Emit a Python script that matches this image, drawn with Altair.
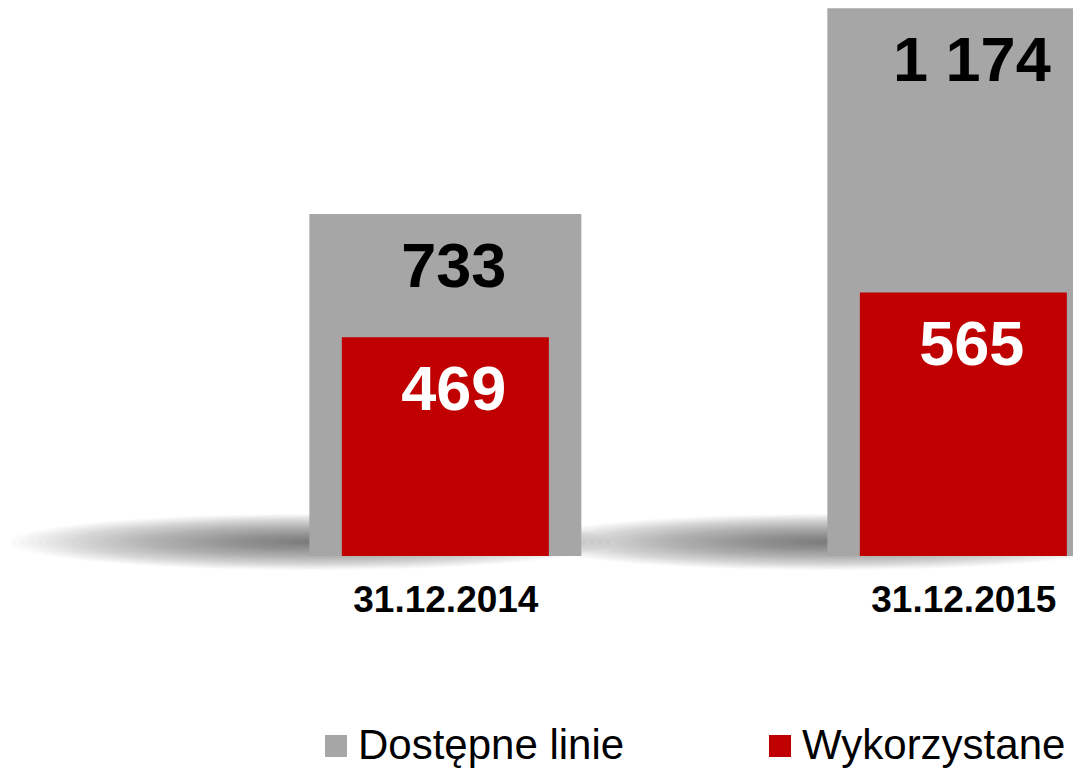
import math
import altair as alt
import pandas as pd

# ---- data ----
dates = ["31.12.2014", "31.12.2015"]
series_names = ["Dostępne linie", "Wykorzystane"]
available = [733, 1174]
used = [469, 565]
colors = ["#a6a6a6", "#c00000"]


def fmt(v):
    return f"{v:,}".replace(",", " ")


rows = []
for i, (d, a, u) in enumerate(zip(dates, available, used)):
    rows.append({"idx": i, "date": d, "series": series_names[0], "value": a, "label": fmt(a)})
    rows.append({"idx": i, "date": d, "series": series_names[1], "value": u, "label": fmt(u)})
df = pd.DataFrame(rows)

# decorative floor shadow: stacked translucent ellipses under each bar (style only)
N_LAYERS = 40
HALF_W = 300
shadow_rows = []
for i in range(len(dates)):
    for k in range(N_LAYERS):
        hw = HALF_W * (1 - k / N_LAYERS) ** 1.15
        shadow_rows.append({"idx": i, "base": 0, "s": (2 * hw) ** 2})
shadow_df = pd.DataFrame(shadow_rows)
S_MAX = (2 * HALF_W) ** 2

FONT = "Liberation Sans"
W = 1065
STEP = 518.0
X0 = -437.35 / STEP

label_expr = "[" + ",".join("'" + d + "'" for d in dates) + "][datum.value]"
x_scale = alt.Scale(domain=[X0, X0 + W / STEP], nice=False, zero=False, padding=0)
x_enc = alt.X(
    "idx:Q",
    scale=x_scale,
    axis=alt.Axis(
        title=None, values=list(range(len(dates))), labelExpr=label_expr,
        domain=False, ticks=False, tickSize=0, grid=False, labelAngle=0,
        labelFont=FONT, labelFontWeight="bold", labelFontSize=37, labelColor="black",
        labelPadding=26, labelFlush=False, labelOverlap=False, labelLimit=500,
    ),
)
y_scale = alt.Scale(domain=[0, 1174.7], nice=False, zero=True)
y_enc = alt.Y("value:Q", scale=y_scale, axis=None)
color_enc = alt.Color(
    "series:N",
    scale=alt.Scale(domain=series_names, range=colors),
    legend=alt.Legend(
        title=None, orient="none", legendX=307, legendY=717, direction="horizontal",
        symbolType="square", symbolSize=484, symbolStrokeWidth=0,
        labelFont=FONT, labelFontSize=42, labelColor="black", labelOffset=1,
        labelLimit=600, columnPadding=134,
    ),
)

pts = []
for j in range(72):
    t = 2 * math.pi * j / 72
    pts.append(f"{math.cos(t):.4f},{0.0936 * math.sin(t):.4f}")
ellipse = "M" + " L".join(pts) + " Z"

shadow = alt.Chart(shadow_df).mark_point(
    shape=ellipse, filled=True, color="#4a443e", opacity=0.027,
    xOffset=-134, yOffset=-14,
).encode(
    x=x_enc,
    y=alt.Y("base:Q", scale=y_scale, axis=None),
    size=alt.Size("s:Q", scale=alt.Scale(domain=[0, S_MAX], range=[0, S_MAX]), legend=None),
)

gray = alt.Chart(df).transform_filter(alt.datum.series == series_names[0])
red = alt.Chart(df).transform_filter(alt.datum.series == series_names[1])

gray_bars = gray.mark_bar(size=272).encode(x=x_enc, y=y_enc, color=color_enc)
red_bars = red.mark_bar(size=207).encode(x=x_enc, y=y_enc, color=color_enc)

text_style = dict(font=FONT, fontWeight="bold", fontSize=63, dx=8.5, dy=73,
                  baseline="alphabetic", align="center")
gray_text = gray.mark_text(color="black", **text_style).encode(x=x_enc, y=y_enc, text="label:N")
red_text = red.mark_text(color="white", **text_style).encode(x=x_enc, y=y_enc, text="label:N")

chart = alt.layer(shadow, gray_bars, gray_text, red_bars, red_text).properties(
    width=W,
    height=548,
    autosize=alt.AutoSizeParams(type="none"),
    padding={"left": 0, "top": 0, "right": 0, "bottom": 213},
).configure_view(strokeWidth=0)

chart.save("out.html", embed_options={"renderer": "svg", "actions": False})
